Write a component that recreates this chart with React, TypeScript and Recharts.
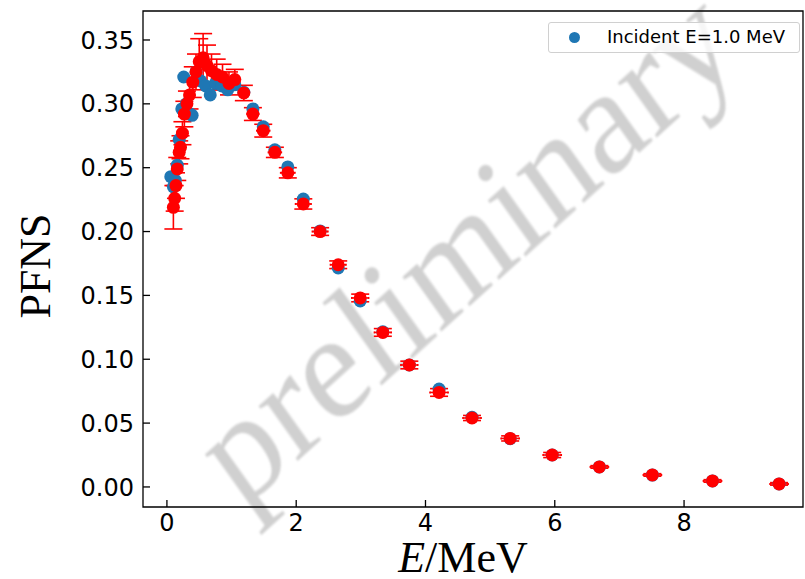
import React from "react";
import { ScatterChart, Scatter, XAxis, YAxis, ErrorBar, ReferenceArea } from "recharts";

// measured spectrum (red, with errors)
const measE = [
  0.10, 0.12, 0.14, 0.16, 0.19, 0.21, 0.24, 0.27, 0.31, 0.35, 0.40, 0.45, 0.50, 0.56, 0.62, 0.69, 0.77, 0.86, 0.96, 1.05,
  1.19, 1.33, 1.49, 1.67, 1.87, 2.11, 2.37, 2.65, 2.99, 3.34, 3.75, 4.21, 4.72, 5.31, 5.96, 6.69, 7.51, 8.44, 9.47,
];
const measPFNS = [
  0.219, 0.226, 0.236, 0.249, 0.262, 0.266, 0.277, 0.292, 0.300, 0.307, 0.317, 0.325, 0.333, 0.336, 0.330, 0.326, 0.323, 0.321, 0.316, 0.319,
  0.3085, 0.292, 0.279, 0.262, 0.246, 0.2216, 0.200, 0.174, 0.148, 0.121, 0.0955, 0.074, 0.054, 0.038, 0.025, 0.0157, 0.0094, 0.0047, 0.0024,
];
const measErrE = [
  0.03, 0.03, 0.03, 0.03, 0.03, 0.03, 0.03, 0.03, 0.04, 0.04, 0.04, 0.04, 0.05, 0.05, 0.05, 0.06, 0.06, 0.06, 0.07, 0.08,
  0.08, 0.09, 0.10, 0.10, 0.11, 0.12, 0.12, 0.12, 0.13, 0.13, 0.13, 0.14, 0.14, 0.14, 0.14, 0.14, 0.14, 0.14, 0.14,
];
const measErrPFNS = [
  0.017, 0.010, 0.010, 0.009, 0.009, 0.009, 0.009, 0.010, 0.010, 0.011, 0.012, 0.014, 0.018, 0.019, 0.016, 0.013, 0.012, 0.010, 0.009, 0.008,
  0.006, 0.005, 0.005, 0.004, 0.004, 0.004, 0.003, 0.003, 0.003, 0.003, 0.003, 0.003, 0.002, 0.002, 0.002, 0.001, 0.001, 0.001, 0.001,
];

// evaluated spectrum, incident E = 1.0 MeV (blue)
const evalE = [
  0.06, 0.10, 0.13, 0.16, 0.19, 0.23, 0.26, 0.30, 0.36, 0.39, 0.45, 0.52, 0.60, 0.67, 0.75, 0.85, 0.94, 1.05,
  1.19, 1.33, 1.49, 1.67, 1.87, 2.11, 2.37, 2.65, 2.99, 3.34, 3.75, 4.21, 4.72, 5.31, 5.96, 6.69, 7.51, 8.44, 9.47,
];
const evalPFNS = [
  0.243, 0.235, 0.240, 0.252, 0.272, 0.296, 0.321, 0.300, 0.292, 0.291, 0.325, 0.318, 0.314, 0.307, 0.316, 0.314, 0.311, 0.315,
  0.309, 0.296, 0.282, 0.264, 0.2506, 0.2255, 0.2005, 0.1715, 0.1457, 0.1215, 0.0955, 0.0767, 0.0545, 0.0378, 0.025, 0.0157, 0.0093, 0.0047, 0.0023,
];

const xTicks = [0, 2, 4, 6, 8];
const yTicks = [0, 0.05, 0.1, 0.15, 0.2, 0.25, 0.3, 0.35];

const measData = measE.map((e, i) => ({ e, v: measPFNS[i], ex: measErrE[i], ey: measErrPFNS[i] }));
const evalData = evalE.map((e, i) => ({ e, v: evalPFNS[i] }));

const X_DOMAIN: [number, number] = [-0.37, 9.84];
const Y_DOMAIN: [number, number] = [-0.0157, 0.3727];

const TICK_FONT = "'DejaVu Sans', sans-serif";
const SERIF = "'Liberation Serif', 'Times New Roman', serif";
const DOT_R = 6.5;

const XTick = (props: any) => {
  const { x, y, payload } = props;
  return (
    <g>
      <line x1={x} y1={y} x2={x} y2={y - 7} stroke="#000" strokeWidth={1.3} />
      <text x={x} y={y + 24} textAnchor="middle" fontFamily={TICK_FONT} fontSize={24} fill="#000">
        {payload.value}
      </text>
    </g>
  );
};

const YTick = (props: any) => {
  const { x, y, payload } = props;
  return (
    <g>
      <line x1={x} y1={y} x2={x + 7} y2={y} stroke="#000" strokeWidth={1.3} />
      <text x={x - 9} y={y} dy="0.36em" textAnchor="end" fontFamily={TICK_FONT} fontSize={24} fill="#000">
        {Number(payload.value).toFixed(2)}
      </text>
    </g>
  );
};

const dot = (color: string) => (p: any) => <circle cx={p.cx} cy={p.cy} r={DOT_R} fill={color} />;

export default function App() {
  return (
    <div style={{ position: "absolute", left: 0, top: 0, width: 805, height: 579, background: "#fff" }}>
      {/* watermark, slanted and slightly soft */}
      <svg width={805} height={579} style={{ position: "absolute", left: 0, top: 0 }}>
        <defs>
          <filter id="soft" x="-10%" y="-10%" width="120%" height="120%">
            <feGaussianBlur stdDeviation={1.2} />
          </filter>
        </defs>
        <g transform="translate(493 285) rotate(-42) skewX(-6.5)" filter="url(#soft)">
          <text
            x={0}
            y={0}
            textAnchor="middle"
            fontFamily={SERIF}
            fontSize={145}
            fill="#c4c4c4"
            fillOpacity={0.8}
          >
            preliminary
          </text>
        </g>
      </svg>

      <div style={{ position: "absolute", left: 0, top: 0 }}>
        <ScatterChart width={805} height={579} margin={{ top: 11, right: 2, bottom: 0, left: 83 }}>
          <XAxis
            type="number"
            dataKey="e"
            domain={X_DOMAIN}
            allowDataOverflow
            ticks={xTicks}
            interval={0}
            axisLine={false}
            tickLine={false}
            tickSize={0}
            tickMargin={0}
            height={72}
            tick={<XTick />}
          />
          <YAxis
            type="number"
            dataKey="v"
            domain={Y_DOMAIN}
            allowDataOverflow
            ticks={yTicks}
            interval={0}
            axisLine={false}
            tickLine={false}
            tickSize={0}
            tickMargin={0}
            width={60}
            tick={<YTick />}
          />
          <ReferenceArea
            x1={X_DOMAIN[0]}
            x2={X_DOMAIN[1]}
            y1={Y_DOMAIN[0]}
            y2={Y_DOMAIN[1]}
            fill="none"
            stroke="#000"
            strokeWidth={1.3}
          />
          <Scatter data={evalData} fill="#1f77b4" shape={dot("#1f77b4")} isAnimationActive={false} />
          <Scatter data={measData} fill="#ff0000" shape={dot("#ff0000")} isAnimationActive={false}>
            <ErrorBar dataKey="ey" direction="y" width={9} stroke="#ff0000" strokeWidth={1.6} />
            <ErrorBar dataKey="ex" direction="x" width={1} stroke="#ff0000" strokeWidth={1.6} />
          </Scatter>
        </ScatterChart>
      </div>

      {/* legend */}
      <div
        style={{
          position: "absolute",
          left: 548,
          top: 22,
          width: 250,
          height: 29,
          border: "1px solid #d0d0d0",
          borderRadius: 3,
          background: "rgba(255,255,255,0.8)",
          fontFamily: TICK_FONT,
          fontSize: 18,
        }}
      >
        <span
          style={{
            position: "absolute",
            left: 20,
            top: 9,
            width: 11,
            height: 11,
            borderRadius: "50%",
            background: "#1f77b4",
          }}
        />
        <span style={{ position: "absolute", left: 58, top: 3, whiteSpace: "nowrap", color: "#000" }}>
          Incident E=1.0 MeV
        </span>
      </div>

      {/* axis titles */}
      <svg width={805} height={579} style={{ position: "absolute", left: 0, top: 0, pointerEvents: "none" }}>
        <text
          x={50}
          y={266}
          textAnchor="middle"
          fontFamily={SERIF}
          fontSize={44}
          fill="#000"
          transform="rotate(-90 50 266)"
        >
          PFNS
        </text>
        <text x={463} y={572} textAnchor="middle" fontFamily={SERIF} fontSize={44} fill="#000">
          <tspan fontStyle="italic">E</tspan>/MeV
        </text>
      </svg>
    </div>
  );
}
